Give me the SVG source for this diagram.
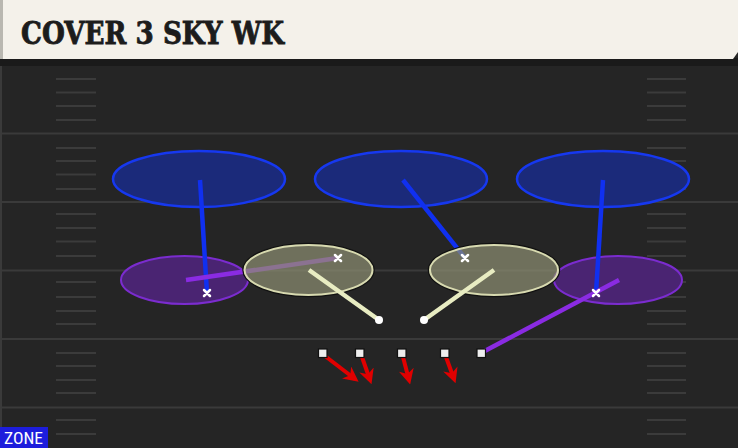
<svg xmlns="http://www.w3.org/2000/svg" width="738" height="448" viewBox="0 0 738 448">
<defs>
<style>
.yd{stroke:#3a3a3a;stroke-width:2}
.hs{stroke:#3b3b3b;stroke-width:2}
.deep{fill:#1b2a7a;stroke:#1638f0;stroke-width:2.5}
.flat{fill:#4a2472;stroke:#7b2ccf;stroke-width:2}
.hook{fill:#8c8e72;fill-opacity:0.72;stroke:#d8dab0;stroke-width:2}
.hookrim{fill:none;stroke:#111;stroke-width:1.5}
.bl{stroke:#1030f0;stroke-width:4.5;stroke-linecap:butt}
.pu{stroke:#8a2be2;stroke-width:4.5}
.kh{stroke:#e8ecc2;stroke-width:4.5}
.rd{stroke:#e00000;stroke-width:4;marker-end:url(#ah)}
.x{stroke:#ffffff;stroke-width:2.5;stroke-linecap:round}
.sq{fill:#eeeeee;stroke:#111;stroke-width:1.2}
</style>
<marker id="ah" viewBox="0 0 10 10" refX="7" refY="5" markerWidth="3.8" markerHeight="3.8" orient="auto" markerUnits="strokeWidth">
<path d="M0,0 L10,5 L0,10 L3,5 Z" fill="#e00000"/>
</marker>
</defs>
<rect x="0" y="0" width="738" height="448" fill="#252525"/>
<rect x="0" y="60" width="2" height="388" fill="#3a3a3a"/>
<g id="field">
<line class="yd" x1="0" y1="65" x2="738" y2="65"/>
<line class="yd" x1="0" y1="133.5" x2="738" y2="133.5"/>
<line class="yd" x1="0" y1="202" x2="738" y2="202"/>
<line class="yd" x1="0" y1="270.5" x2="738" y2="270.5"/>
<line class="yd" x1="0" y1="339" x2="738" y2="339"/>
<line class="yd" x1="0" y1="407.5" x2="738" y2="407.5"/>
<path class="hs" d="M56 79H96M56 92.5H96M56 106H96M56 120H96M56 148H96M56 161H96M56 174.5H96M56 189H96M56 214H96M56 228H96M56 241.5H96M56 256H96M56 282H96M56 297H96M56 311H96M56 324H96M56 353H96M56 366H96M56 380H96M56 393H96M56 420H96M56 434H96
M647 79H686M647 92.5H686M647 106H686M647 120H686M647 148H686M647 161H686M647 174.5H686M647 189H686M647 214H686M647 228H686M647 241.5H686M647 256H686M647 282H686M647 297H686M647 311H686M647 324H686M647 353H686M647 366H686M647 380H686M647 393H686M647 420H686M647 434H686"/>
</g>
<g id="title">
<rect x="0" y="58" width="738" height="8" fill="#1a1a1a"/>
<path d="M0 0H738V52L733 59H0Z" fill="#f4f1ea"/>
<rect x="0" y="0" width="3" height="59" fill="#b9b7b0"/>
<text x="21" y="44" font-family="DejaVu Serif Condensed, DejaVu Serif, serif" font-weight="bold" font-size="31" fill="#1c1c1c" stroke="#1c1c1c" stroke-width="0.8" textLength="263" lengthAdjust="spacingAndGlyphs">COVER 3 SKY WK</text>
</g>
<g id="deep-left"><ellipse class="deep" cx="199" cy="179" rx="86" ry="28"/></g>
<g id="deep-middle"><ellipse class="deep" cx="401" cy="179" rx="86" ry="28"/></g>
<g id="deep-right"><ellipse class="deep" cx="603" cy="179" rx="86" ry="28"/></g>
<g id="flat-left"><ellipse class="flat" cx="184.5" cy="280" rx="63.5" ry="24"/></g>
<g id="flat-right"><ellipse class="flat" cx="618" cy="280" rx="64" ry="24"/></g>
<g id="connectors">
<line class="bl" x1="200" y1="180" x2="207" y2="293"/>
<line class="bl" x1="403" y1="180" x2="465" y2="258"/>
<line class="bl" x1="603" y1="180" x2="596" y2="293"/>
<line class="pu" x1="186" y1="280" x2="338" y2="258"/>
<line class="pu" x1="619" y1="280" x2="481" y2="353"/>
</g>
<g id="hook-left"><ellipse class="hookrim" cx="308.5" cy="270" rx="65.5" ry="26.5"/><ellipse class="hook" cx="308.5" cy="270" rx="64" ry="25"/></g>
<g id="hook-right"><ellipse class="hookrim" cx="494" cy="270" rx="65.5" ry="26.5"/><ellipse class="hook" cx="494" cy="270" rx="64" ry="25"/></g>
<g id="routes">
<line class="kh" x1="309" y1="270" x2="379" y2="320"/>
<line class="kh" x1="494" y1="270" x2="424" y2="320"/>
<line class="rd" x1="325" y1="356" x2="355" y2="379"/>
<line class="rd" x1="362" y1="357" x2="370" y2="380"/>
<line class="rd" x1="403" y1="357" x2="409" y2="380"/>
<line class="rd" x1="446" y1="357" x2="454" y2="379"/>
</g>
<g id="defenders">
<path class="x" d="M204 290l6 6M210 290l-6 6"/>
<path class="x" d="M335 255l6 6M341 255l-6 6"/>
<path class="x" d="M462 255l6 6M468 255l-6 6"/>
<path class="x" d="M593 290l6 6M599 290l-6 6"/>
<circle cx="379" cy="320" r="4" fill="#fff"/>
<circle cx="424" cy="320" r="4" fill="#fff"/>
</g>
<g id="offense">
<rect class="sq" x="318.5" y="349" width="8.5" height="8.5"/>
<rect class="sq" x="355.5" y="349" width="8.5" height="8.5"/>
<rect class="sq" x="397.5" y="349" width="8.5" height="8.5"/>
<rect class="sq" x="440.5" y="349" width="8.5" height="8.5"/>
<rect class="sq" x="477" y="349" width="8.5" height="8.5"/>
</g>
<g id="zone-label">
<rect x="0" y="427" width="48" height="21" fill="#1d1ddc"/>
<text x="4" y="444" font-family="Roboto Condensed, Roboto, Liberation Sans, sans-serif" font-size="16" fill="#ffffff" textLength="39" lengthAdjust="spacingAndGlyphs">ZONE</text>
</g>
</svg>
